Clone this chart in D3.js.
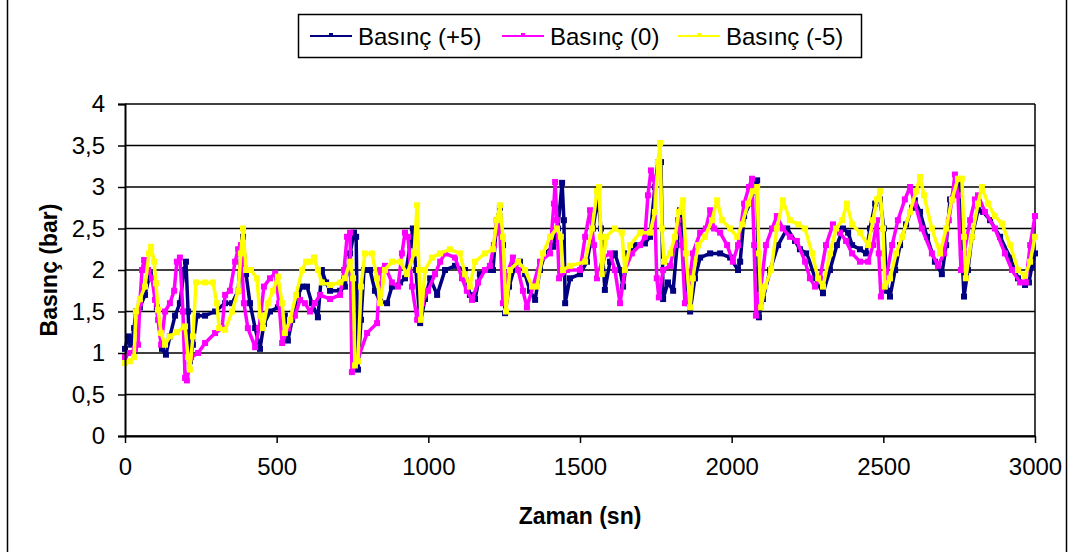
<!DOCTYPE html>
<html>
<head>
<meta charset="utf-8">
<title>Basınç - Zaman</title>
<style>
  body { margin: 0; background: #fff; }
  svg text { font-family: "Liberation Sans", Arial, sans-serif; fill: #000; }
</style>
<script src="https://d3js.org/d3.v7.min.js"></script>
</head>
<body>
<svg id="chart" width="1073" height="552"></svg>
<script>
// time (sn) and pressure (bar), one pair of arrays per series
var tPlus5 = [0,10,20,30,36,49,66,82,92,105,122,135,148,165,181,195,201,208,214,224,237,264,297,330,353,373,382,389,399,412,429,445,458,478,504,527,537,551,570,584,
  600,616,636,649,663,676,709,725,742,755,762,768,778,788,808,824,841,864,880,907,923,940,949,959,973,989,1006,1029,1055,1088,1121,1137,1154,1170,1193,
  1213,1226,1236,1246,1253,1266,1286,1302,1319,1335,1352,1368,1385,1411,1427,1441,1447,1451,1467,1500,1523,1543,1559,1569,1582,1599,1615,1632,1642,1658,1681,1714,1731,1747,1757,1767,1774,
  1790,1807,1820,1830,1843,1856,1863,1879,1896,1929,1962,1995,2021,2028,2041,2060,2084,2087,2090,2103,2127,2153,2183,2209,2225,2248,2275,2301,2324,2347,2367,2384,
  2397,2423,2443,2456,2473,2489,2502,2512,2522,2539,2555,2575,2595,2604,2621,2644,2670,2693,2707,2720,2736,2753,2759,2766,2779,2792,2812,2829,2852,2885,2918,2944,2967,2980,2990,3000];
var pPlus5 = [1.05,1.2,1.1,1.3,1.5,1.55,1.7,1.95,1.9,1.55,1.05,0.98,1.2,1.45,1.6,2.0,2.1,1.5,0.9,1.1,1.45,1.45,1.5,1.6,1.6,1.75,2.2,2.4,1.95,1.6,1.3,1.05,1.35,1.5,1.55,1.45,1.15,1.4,1.7,1.8,
  1.8,1.6,1.43,2.0,1.85,1.75,1.75,1.8,2.2,2.45,2.4,0.8,1.4,2.0,2.0,1.75,1.62,1.6,1.8,1.85,1.9,2.3,2.5,2.0,1.36,1.65,1.9,1.7,2.0,2.05,2.0,1.7,1.65,1.95,2.0,
  2.0,2.6,2.75,2.3,1.48,1.8,2.05,2.1,1.95,1.75,1.64,2.0,2.2,2.28,2.5,3.05,2.6,1.6,1.9,1.95,2.1,2.5,2.88,2.5,1.76,2.1,2.2,2.0,1.8,2.2,2.3,2.32,2.4,3.0,3.3,3.3,1.65,
  1.85,1.75,2.3,2.72,2.3,1.6,1.5,1.9,2.15,2.2,2.2,2.15,2.0,2.1,2.65,2.8,3.08,2.0,1.43,1.65,2.0,2.3,2.5,2.35,2.25,2.2,1.9,1.72,2.0,2.3,2.5,2.45,
  2.3,2.25,2.2,2.5,2.8,2.85,2.5,1.75,1.68,2.0,2.3,2.55,2.75,2.84,2.7,2.4,2.1,1.95,2.3,2.85,2.95,3.05,2.2,1.68,2.0,2.4,2.72,2.7,2.6,2.4,2.15,1.9,1.82,1.85,2.05,2.2];

var tZero = [0,16,33,43,49,56,63,76,89,99,109,119,132,148,162,171,181,191,198,204,218,241,264,297,320,330,346,363,373,382,392,405,429,442,458,478,495,508,518,537,560,577,593,
  610,626,643,676,709,722,732,742,748,765,798,831,841,857,880,900,913,923,933,946,963,979,999,1022,1039,1055,1088,1111,1127,1144,1164,1187,
  1203,1216,1226,1236,1246,1259,1279,1296,1312,1325,1345,1368,1401,1414,1418,1424,1431,1457,1500,1517,1533,1546,1556,1576,1599,1615,1632,1648,1671,1698,1714,1724,1734,1744,1753,1760,
  1774,1797,1813,1823,1836,1846,1856,1872,1896,1915,1929,1942,1962,1985,2004,2021,2041,2057,2067,2074,2080,2093,2113,2133,2149,2169,2192,2215,2242,2258,2275,2291,2311,2334,2357,2377,
  2397,2423,2450,2466,2479,2485,2492,2509,2529,2548,2571,2588,2604,2627,2660,2680,2700,2716,2726,2736,2746,2756,2766,2786,2802,2812,2835,2868,2901,2924,2951,2970,2984,3000];
var pZero = [0.95,1.0,1.05,1.1,1.6,2.0,2.12,2.0,1.9,1.64,1.4,1.1,1.5,1.6,1.75,2.1,2.15,1.5,0.7,0.67,0.95,1.0,1.12,1.24,1.3,1.7,1.75,2.1,2.25,2.3,1.6,1.3,1.07,1.3,1.8,1.9,1.96,1.6,1.12,1.3,1.45,1.64,1.6,
  1.5,1.6,1.7,1.65,1.7,2.0,2.4,2.45,0.77,0.9,1.24,1.36,2.0,2.05,1.85,1.8,2.2,2.45,2.4,1.8,1.4,1.6,1.75,1.95,2.1,2.2,2.15,1.9,1.75,1.64,1.85,2.0,
  2.05,2.3,2.6,2.45,1.6,1.95,2.15,2.0,1.75,1.55,1.8,2.1,2.2,2.8,3.06,2.6,1.9,2.0,2.0,2.4,2.72,2.3,1.9,2.15,2.2,2.0,1.6,2.0,2.2,2.3,2.4,2.9,3.2,3.1,1.9,1.67,
  2.0,2.05,2.3,2.6,2.3,1.6,1.7,2.2,2.45,2.5,2.72,2.5,2.45,2.3,2.1,2.3,2.8,3.0,3.1,2.3,1.45,1.7,2.3,2.5,2.65,2.5,2.4,2.35,2.1,1.9,1.8,1.9,2.3,2.55,2.45,2.35,
  2.2,2.1,2.1,2.3,2.6,2.2,1.68,1.9,2.3,2.6,2.85,3.0,2.8,2.5,2.2,2.05,2.2,2.6,2.85,3.15,2.9,2.0,2.2,2.6,2.85,2.9,2.7,2.5,2.2,2.0,1.85,1.85,2.3,2.65];

var tMinus5 = [0,16,30,36,49,66,79,86,96,102,109,119,132,148,171,198,208,214,224,234,264,290,303,310,330,353,373,382,389,399,415,435,445,455,471,488,504,518,527,544,564,584,597,
  610,623,636,649,676,709,725,742,752,758,768,778,791,814,831,841,857,880,907,930,953,963,969,976,989,1012,1039,1071,1104,1121,1137,1154,1187,
  1213,1226,1236,1246,1256,1269,1296,1319,1342,1358,1378,1401,1424,1437,1444,1467,1517,1540,1556,1563,1569,1572,1586,1615,1638,1648,1665,1698,1731,1747,1757,1764,1770,1777,
  1797,1813,1826,1840,1849,1863,1872,1889,1912,1935,1952,1968,1995,2018,2034,2054,2070,2084,2090,2097,2110,2130,2149,2169,2192,2219,2242,2265,2285,2301,2324,2344,2364,2380,
  2397,2423,2450,2466,2479,2489,2499,2505,2522,2542,2562,2588,2608,2621,2634,2660,2687,2707,2726,2746,2759,2766,2772,2792,2812,2825,2845,2868,2891,2918,2944,2967,2984,3000];
var pMinus5 = [0.88,0.9,0.95,1.5,1.65,1.8,2.2,2.28,2.1,1.84,1.52,1.24,1.1,1.2,1.25,1.32,0.95,0.8,1.2,1.85,1.85,1.85,1.6,1.3,1.28,1.5,1.75,2.2,2.5,2.0,2.0,1.9,1.45,1.3,1.6,1.75,1.92,1.6,1.24,1.4,1.7,2.0,2.1,
  2.1,2.15,2.0,1.85,1.82,1.85,1.9,2.1,1.9,0.85,0.9,1.8,2.2,2.2,1.9,1.6,2.0,2.1,2.1,1.95,2.2,2.78,2.0,1.4,2.0,2.15,2.2,2.25,2.2,1.95,1.8,2.1,2.2,
  2.25,2.6,2.78,2.4,1.5,2.0,2.1,2.0,1.8,1.8,2.2,2.4,2.5,2.4,2.0,2.05,2.1,2.5,2.95,3.0,2.4,1.95,2.4,2.5,2.45,2.0,2.3,2.45,2.45,2.7,3.3,3.53,2.5,2.1,
  2.2,2.4,2.7,2.84,2.2,1.55,1.9,2.3,2.4,2.6,2.84,2.6,2.5,2.4,2.55,2.8,2.95,3.0,2.2,1.55,1.8,2.0,2.5,2.84,2.6,2.55,2.5,2.2,1.9,1.8,2.2,2.5,2.6,2.8,
  2.55,2.45,2.3,2.6,2.85,2.95,2.5,1.8,1.9,2.2,2.4,2.7,2.95,3.12,2.9,2.5,2.2,2.5,2.85,3.1,3.1,2.4,1.9,2.4,2.8,3.0,2.8,2.65,2.56,2.3,2.0,1.93,2.1,2.4];

var seriesNames = ['Basınç (+5)', 'Basınç (0)', 'Basınç (-5)'];
var seriesColors = ['#000080', '#ff00ff', '#ffff00'];
var yTicks = [0, 0.5, 1, 1.5, 2, 2.5, 3, 3.5, 4];
var xTicks = [0, 500, 1000, 1500, 2000, 2500, 3000];

var svg = d3.select('#chart'),
  margin = { top: 104, left: 125, right: 38, bottom: 116 },
  width = +svg.attr('width') - margin.left - margin.right,
  height = +svg.attr('height') - margin.top - margin.bottom;

// chart area border
svg.append('rect')
  .attr('x', 7.5).attr('y', -3)
  .attr('width', 1059).attr('height', 560)
  .attr('fill', 'none').attr('stroke', '#000').attr('stroke-width', 1.5);

var x = d3.scaleLinear().domain([0, 3000]).range([margin.left, margin.left + width]);
var y = d3.scaleLinear().domain([0, 4]).range([margin.top + height, margin.top]);

// gridlines
svg.append('g')
  .selectAll('line')
  .data(yTicks)
  .join('line')
  .attr('x1', x(0)).attr('x2', x(3000))
  .attr('y1', (d) => y(d)).attr('y2', (d) => y(d))
  .attr('stroke', '#000').attr('stroke-width', 1.5);

svg.append('line')
  .attr('x1', x(3000)).attr('x2', x(3000))
  .attr('y1', y(0)).attr('y2', y(4))
  .attr('stroke', '#000').attr('stroke-width', 1.5);

var line = d3.line().x((d) => x(d[0])).y((d) => y(d[1]));

var series = [
  { t: tPlus5, p: pPlus5 },
  { t: tZero, p: pZero },
  { t: tMinus5, p: pMinus5 }
];

series.forEach(function (s, i) {
  var pts = s.t.map((t, j) => [t, s.p[j]]);
  svg.append('path')
    .datum(pts)
    .attr('fill', 'none')
    .attr('stroke', seriesColors[i])
    .attr('stroke-width', 3.5)
    .attr('stroke-linejoin', 'round')
    .attr('d', line);
  svg.append('g')
    .selectAll('rect')
    .data(pts)
    .join('rect')
    .attr('x', (d) => x(d[0]) - 3)
    .attr('y', (d) => y(d[1]) - 3)
    .attr('width', 6).attr('height', 6)
    .attr('fill', seriesColors[i]);
});

var yAxis = svg.append('g')
  .attr('transform', `translate(${margin.left},0)`)
  .call(d3.axisLeft(y).tickValues(yTicks).tickSize(7).tickPadding(13)
    .tickFormat((d) => String(d).replace('.', ',')));

var xAxis = svg.append('g')
  .attr('transform', `translate(0,${margin.top + height})`)
  .call(d3.axisBottom(x).tickValues(xTicks).tickSize(7).tickPadding(15).tickSizeOuter(0)
    .tickFormat(d3.format('d')));

svg.selectAll('.domain').attr('stroke', '#000').attr('stroke-width', 2);
svg.selectAll('.tick line').attr('stroke', '#000').attr('stroke-width', 1.5);
svg.selectAll('.tick text')
  .attr('font-family', '"Liberation Sans", Arial, sans-serif')
  .attr('font-size', 24)
  .attr('fill', '#000');

// axis titles
svg.append('text')
  .attr('text-anchor', 'middle')
  .attr('transform', 'translate(57,270) rotate(-90)')
  .attr('font-size', 23)
  .attr('font-weight', 'bold')
  .text('Basınç (bar)');

svg.append('text')
  .attr('text-anchor', 'middle')
  .attr('x', x(1500))
  .attr('y', 524)
  .attr('font-size', 23)
  .attr('font-weight', 'bold')
  .text('Zaman (sn)');

// legend
var legend = svg.append('g');
legend.append('rect')
  .attr('x', 298.5).attr('y', 14.5)
  .attr('width', 563).attr('height', 43)
  .attr('fill', '#fff').attr('stroke', '#000').attr('stroke-width', 1.5);

var legendX = [310, 502, 678];
seriesNames.forEach(function (name, i) {
  var g = legend.append('g').attr('transform', `translate(${legendX[i]},36)`);
  g.append('line')
    .attr('x1', 0).attr('x2', 42)
    .attr('stroke', seriesColors[i]).attr('stroke-width', 2);
  g.append('rect')
    .attr('x', 19).attr('y', -3).attr('width', 4).attr('height', 3)
    .attr('fill', seriesColors[i]);
  g.append('text')
    .attr('x', 48).attr('y', 9)
    .attr('font-size', 24)
    .text(name);
});
</script>
</body>
</html>
